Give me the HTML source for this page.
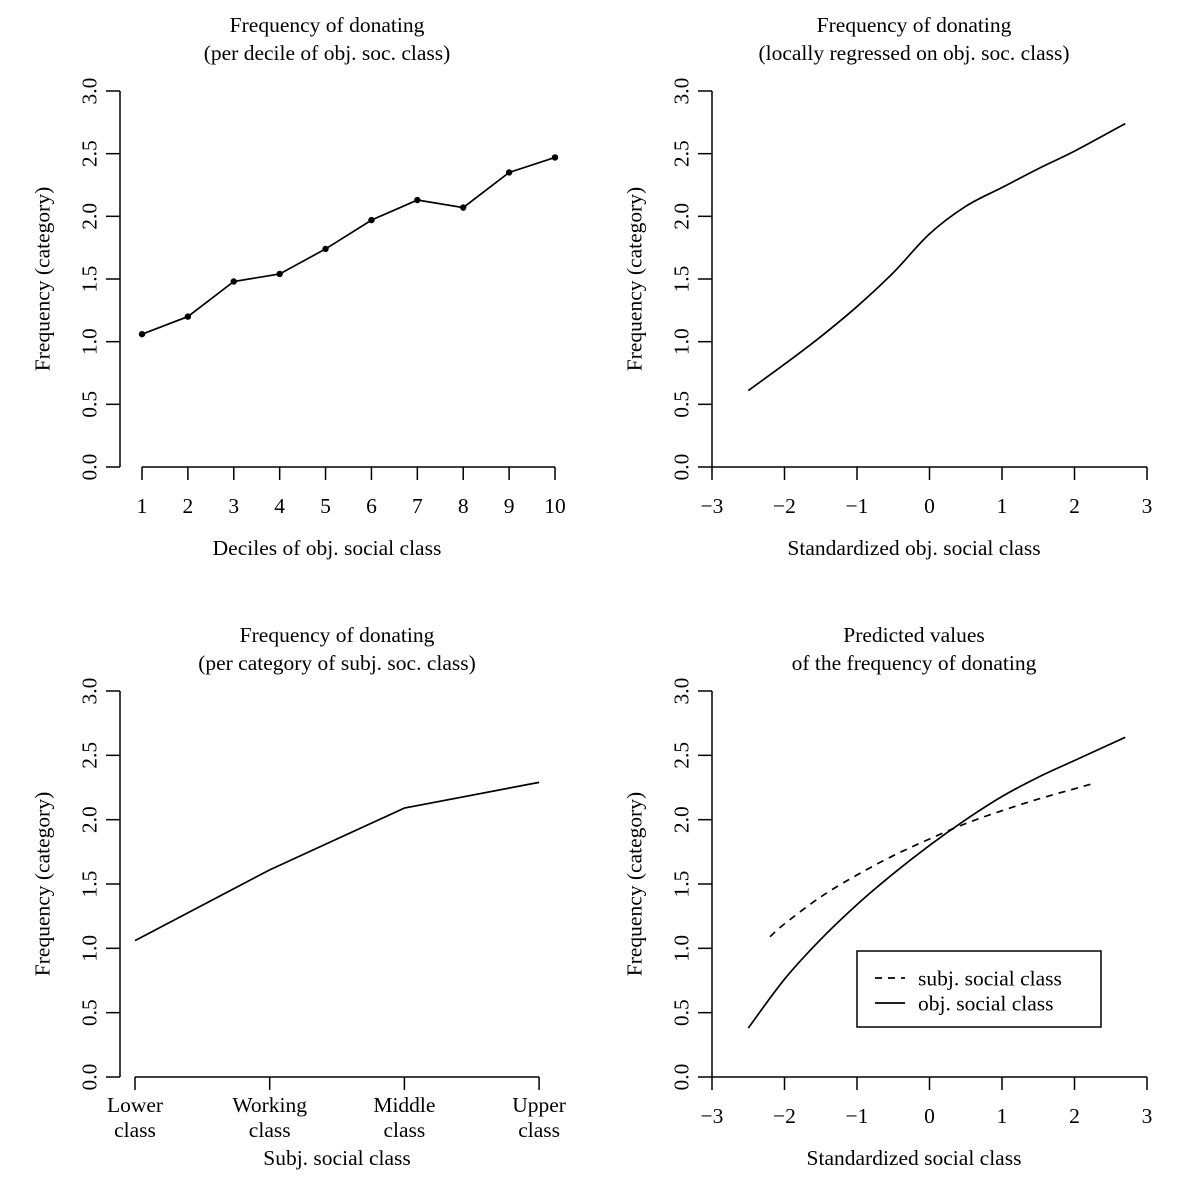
<!DOCTYPE html>
<html><head><meta charset="utf-8"><style>
body{margin:0;background:#fff}
svg text{font-family:"Liberation Serif",serif;font-size:21.5px;fill:#000}
</style></head><body>
<svg id="c" width="1200" height="1187" viewBox="0 0 1200 1187" xmlns="http://www.w3.org/2000/svg"></svg>
<script>
const deciles=[1,2,3,4,5,6,7,8,9,10];
const decileFreq=[1.06,1.20,1.48,1.54,1.74,1.97,2.13,2.07,2.35,2.47];
const loessX=[-2.5,-2,-1.5,-1,-0.5,0,0.5,1,1.5,2,2.7];
const loessY=[0.61,0.82,1.04,1.28,1.55,1.86,2.08,2.23,2.38,2.52,2.74];
const subjCats=["Lower|class","Working|class","Middle|class","Upper|class"];
const subjFreq=[1.06,1.61,2.09,2.29];
const objPredX=[-2.5,-2,-1.5,-1,-0.5,0,0.5,1,1.5,2,2.7];
const objPredY=[0.38,0.76,1.07,1.34,1.58,1.80,2.00,2.18,2.33,2.46,2.64];
const subjPredX=[-2.2,-2,-1.5,-1,-0.5,0,0.5,1,1.5,2,2.25];
const subjPredY=[1.09,1.19,1.40,1.57,1.72,1.85,1.97,2.07,2.16,2.24,2.28];
const yTicks=["0.0","0.5","1.0","1.5","2.0","2.5","3.0"];
const zTicks=["\u22123","\u22122","\u22121","0","1","2","3"];

const svg=document.getElementById('c');
const NS="http://www.w3.org/2000/svg";
function el(tag,attrs,parent){const e=document.createElementNS(NS,tag);for(const k in attrs)e.setAttribute(k,attrs[k]);(parent||svg).appendChild(e);return e;}
function txt(s,x,y,parent,extra){const t=el('text',Object.assign({x:x,y:y,'text-anchor':'middle'},extra||{}),parent);t.textContent=s;return t;}

function panel(name,P){
  const g=el('g',{});
  
  
  const ys=v=>P.y0-v*(P.y0-P.y3)/3;
  const ya=el('g',{},g);
  
  
  el('line',{x1:P.ax,y1:P.y0,x2:P.ax,y2:P.y3,stroke:'#000','stroke-width':1.5},ya);
  yTicks.forEach((s,i)=>{const y=ys(i*0.5);
    el('line',{x1:P.ax-14,y1:y,x2:P.ax,y2:y,stroke:'#000','stroke-width':1.5},ya);
    txt(s,P.ax-31,y,ya,{transform:`rotate(-90 ${P.ax-31} ${y})`,dy:'0.35em'});});
  const yt=txt('Frequency (category)',P.ax-78,(P.y0+P.y3)/2,g,{transform:`rotate(-90 ${P.ax-78} ${(P.y0+P.y3)/2})`,dy:'0.35em'});
  
  
  const xa=el('g',{},g);
  
  
  el('line',{x1:P.xs(P.xt[0]),y1:P.y0,x2:P.xs(P.xt[P.xt.length-1]),y2:P.y0,stroke:'#000','stroke-width':1.5},xa);
  P.xt.forEach((v,i)=>{const x=P.xs(v);
    el('line',{x1:x,y1:P.y0,x2:x,y2:P.y0+13,stroke:'#000','stroke-width':1.5},xa);
    const parts=P.xl[i].split('|');
    const base=parts.length>1?P.y0+35:P.y0+46;
    parts.forEach((p,j)=>txt(p,x,base+j*25,xa));});
  const xt=txt(P.xtitle,P.cx,P.y0+88,g);
  
  
  const tt=el('g',{},g);
  
  
  txt(P.t1,P.cx,P.ty,tt);txt(P.t2,P.cx,P.ty+28,tt);
  return {g,ys};
}
function line(g,xs,ys,X,Y,name,dash,smooth){
  const pts=X.map((v,i)=>[xs(v),ys(Y[i])]);
  let d='M'+pts[0][0]+' '+pts[0][1];
  for(let i=0;i<pts.length-1;i++){
    if(!smooth){d+=' L'+pts[i+1][0]+' '+pts[i+1][1];continue;}
    const p0=pts[Math.max(i-1,0)],p1=pts[i],p2=pts[i+1],p3=pts[Math.min(i+2,pts.length-1)];
    const c1=[p1[0]+(p2[0]-p0[0])/6,p1[1]+(p2[1]-p0[1])/6];
    const c2=[p2[0]-(p3[0]-p1[0])/6,p2[1]-(p3[1]-p1[1])/6];
    d+=` C${c1[0]} ${c1[1]} ${c2[0]} ${c2[1]} ${p2[0]} ${p2[1]}`;
  }
  const p=el('path',{d:d,fill:'none',stroke:'#000','stroke-width':1.7,'stroke-dasharray':dash||'none'},g);
  
  
}
{const xs=v=>142+(v-1)*(555-142)/9;
 const r=panel('panel-deciles',{ax:120,y0:467,y3:91,xs,xt:deciles,xl:deciles.map(String),xtitle:'Deciles of obj. social class',cx:327,ty:32,t1:'Frequency of donating',t2:'(per decile of obj. soc. class)'});
 line(r.g,xs,r.ys,deciles,decileFreq,'decile-line');
 deciles.forEach((v,i)=>{const c=el('circle',{cx:xs(v),cy:r.ys(decileFreq[i]),r:3.2,fill:'#000'},r.g);
  
  });}
const zs=v=>929.5+v*72.5;
const zVals=[-3,-2,-1,0,1,2,3];
{const r=panel('panel-loess',{ax:712,y0:467,y3:91,xs:zs,xt:zVals,xl:zTicks,xtitle:'Standardized obj. social class',cx:914,ty:32,t1:'Frequency of donating',t2:'(locally regressed on obj. soc. class)'});
 line(r.g,zs,r.ys,loessX,loessY,'loess-line',null,true);}
{const idx=[0,1,2,3];const xs=i=>135+i*134.7;
 const r=panel('panel-subjective',{ax:120,y0:1077,y3:691,xs,xt:idx,xl:subjCats,xtitle:'Subj. social class',cx:337,ty:642,t1:'Frequency of donating',t2:'(per category of subj. soc. class)'});
 line(r.g,xs,r.ys,idx,subjFreq,'subjective-line');}
{const r=panel('panel-predicted',{ax:712,y0:1077,y3:691,xs:zs,xt:zVals,xl:zTicks,xtitle:'Standardized social class',cx:914,ty:642,t1:'Predicted values',t2:'of the frequency of donating'});
 line(r.g,zs,r.ys,subjPredX,subjPredY,'subj-predicted-line','7,6',true);
 line(r.g,zs,r.ys,objPredX,objPredY,'obj-predicted-line',null,true);
 const lg=el('g',{},r.g);
 
 
 el('rect',{x:857,y:951,width:244,height:76,fill:'#fff',stroke:'#000','stroke-width':1.5},lg);
 el('line',{x1:875,y1:978,x2:905,y2:978,stroke:'#000','stroke-width':1.7,'stroke-dasharray':'7,6'},lg);
 el('line',{x1:875,y1:1003,x2:905,y2:1003,stroke:'#000','stroke-width':1.7},lg);
 txt('subj. social class',918,978,lg,{'text-anchor':'start',dy:'0.35em'});
 txt('obj. social class',918,1003,lg,{'text-anchor':'start',dy:'0.35em'});}
</script>
</body></html>
